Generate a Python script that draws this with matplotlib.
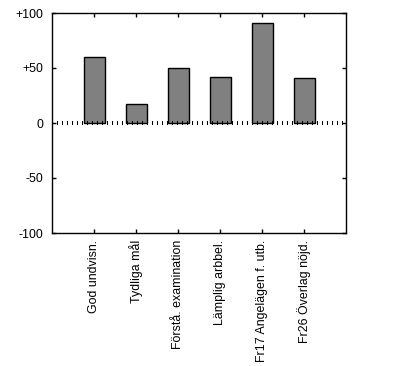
import matplotlib
matplotlib.use('Agg')
import matplotlib.pyplot as plt
import numpy as np

categories = ['God undvisn.', 'Tydliga mål', 'Förstå. examination',
              'Lämplig arbbel.', 'Fr17 Angelägen f. utb.', 'Fr26 Överlag nöjd.']
values = [60, 17, 50, 42, 91, 41]
ytick_vals = [-100, -50, 0, 50, 100]
ytick_labels = ['-100', '-50', '0', '+50', '+100']

plt.rcParams['font.family'] = ['Liberation Sans', 'DejaVu Sans']
plt.rcParams['lines.scale_dashes'] = False

fig = plt.figure(figsize=(3.95, 3.66), dpi=100)
ax = fig.add_axes([52 / 395, 1 - 233 / 366, 294 / 395, 220 / 366])

x = np.arange(1, len(categories) + 1)
ax.bar(x, values, width=0.5, color='#808080', edgecolor='black', linewidth=1.0, zorder=3)
# dotted zero line made of short vertical ticks
ax.axhline(0, color='black', linewidth=2.9, dashes=(0.72, 2.88), zorder=4)

ax.set_xlim(0, len(categories) + 1)
ax.set_ylim(-100, 100)
ax.set_xticks(x)
ax.set_xticklabels(categories, rotation=90, va='top', ha='center', fontsize=8.9)
ax.set_yticks(ytick_vals)
ax.set_yticklabels(ytick_labels, fontsize=8.9)
ax.tick_params(axis='both', direction='in', length=3, width=1, top=True, right=True)
ax.tick_params(axis='x', pad=5)
ax.tick_params(axis='y', pad=6)
for s in ax.spines.values():
    s.set_linewidth(1.0)

fig.savefig('out.png', dpi=100)
